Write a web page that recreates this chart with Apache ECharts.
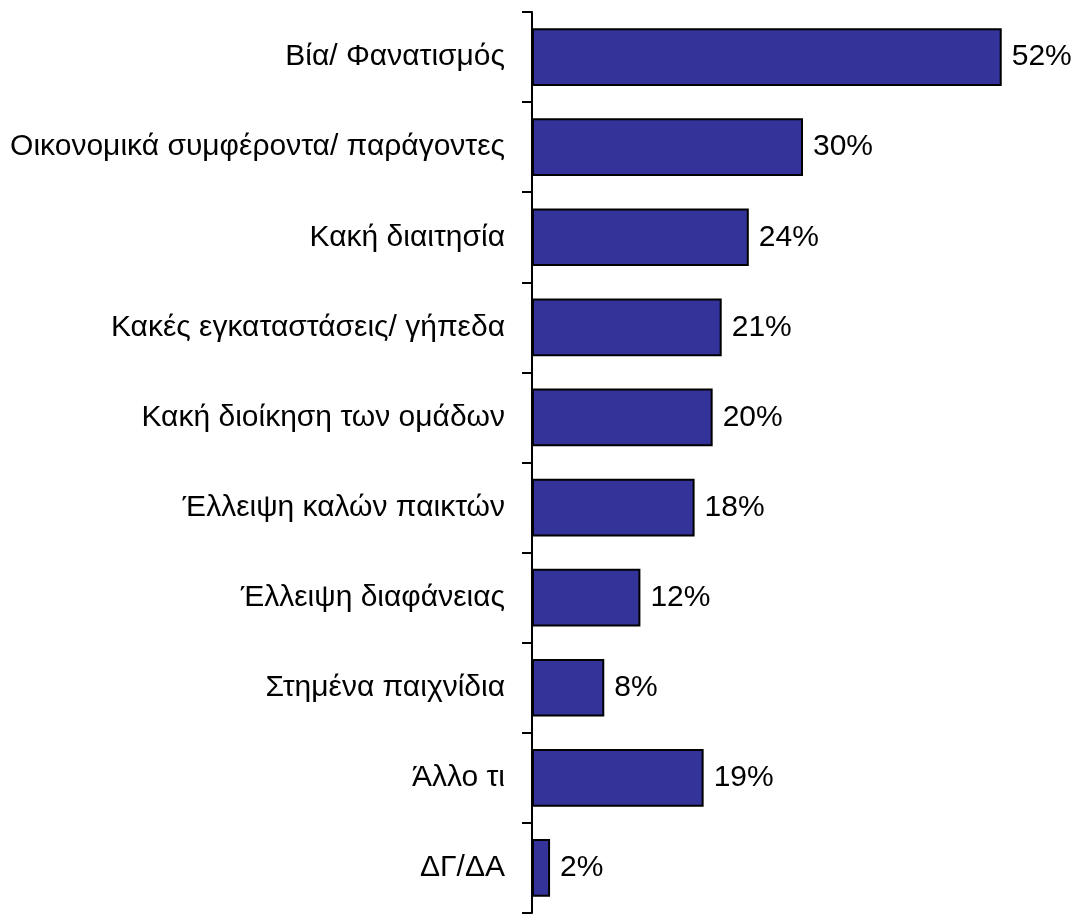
<!DOCTYPE html>
<html>
<head>
<meta charset="utf-8">
<script src="https://cdn.jsdelivr.net/npm/echarts@6/dist/echarts.min.js"></script>
<style>
  html, body { margin: 0; padding: 0; background: #fff; }
  #chart { width: 1078px; height: 915px; }
</style>
</head>
<body>
<div id="chart"></div>
<script>
const categories = [
  'Βία/ Φανατισμός',
  'Οικονομικά συμφέροντα/ παράγοντες',
  'Κακή διαιτησία',
  'Κακές εγκαταστάσεις/ γήπεδα',
  'Κακή διοίκηση των ομάδων',
  'Έλλειψη καλών παικτών',
  'Έλλειψη διαφάνειας',
  'Στημένα παιχνίδια',
  'Άλλο τι',
  'ΔΓ/ΔΑ'
];
const values = [52, 30, 24, 21, 20, 18, 12, 8, 19, 2];

const chart = echarts.init(document.getElementById('chart'));
chart.setOption({
  animation: false,
  grid: { left: 532, right: 4, top: 12, bottom: 2, containLabel: false },
  xAxis: {
    type: 'value',
    min: 0,
    max: 60,
    show: false
  },
  yAxis: {
    type: 'category',
    inverse: true,
    data: categories,
    axisLine: { show: true, lineStyle: { color: '#000', width: 2 } },
    axisTick: { show: true, length: 10, lineStyle: { color: '#000', width: 2 } },
    axisLabel: {
      margin: 27,
      color: '#000',
      fontSize: 30,
      fontFamily: 'Liberation Sans, Arial, sans-serif'
    }
  },
  series: [{
    type: 'bar',
    data: values,
    barWidth: '64%',
    itemStyle: { color: '#333399', borderColor: '#000', borderWidth: 2 },
    label: {
      show: true,
      position: 'right',
      distance: 10,
      formatter: '{c}%',
      color: '#000',
      fontSize: 30,
      fontFamily: 'Liberation Sans, Arial, sans-serif'
    }
  }]
});
</script>
</body>
</html>
